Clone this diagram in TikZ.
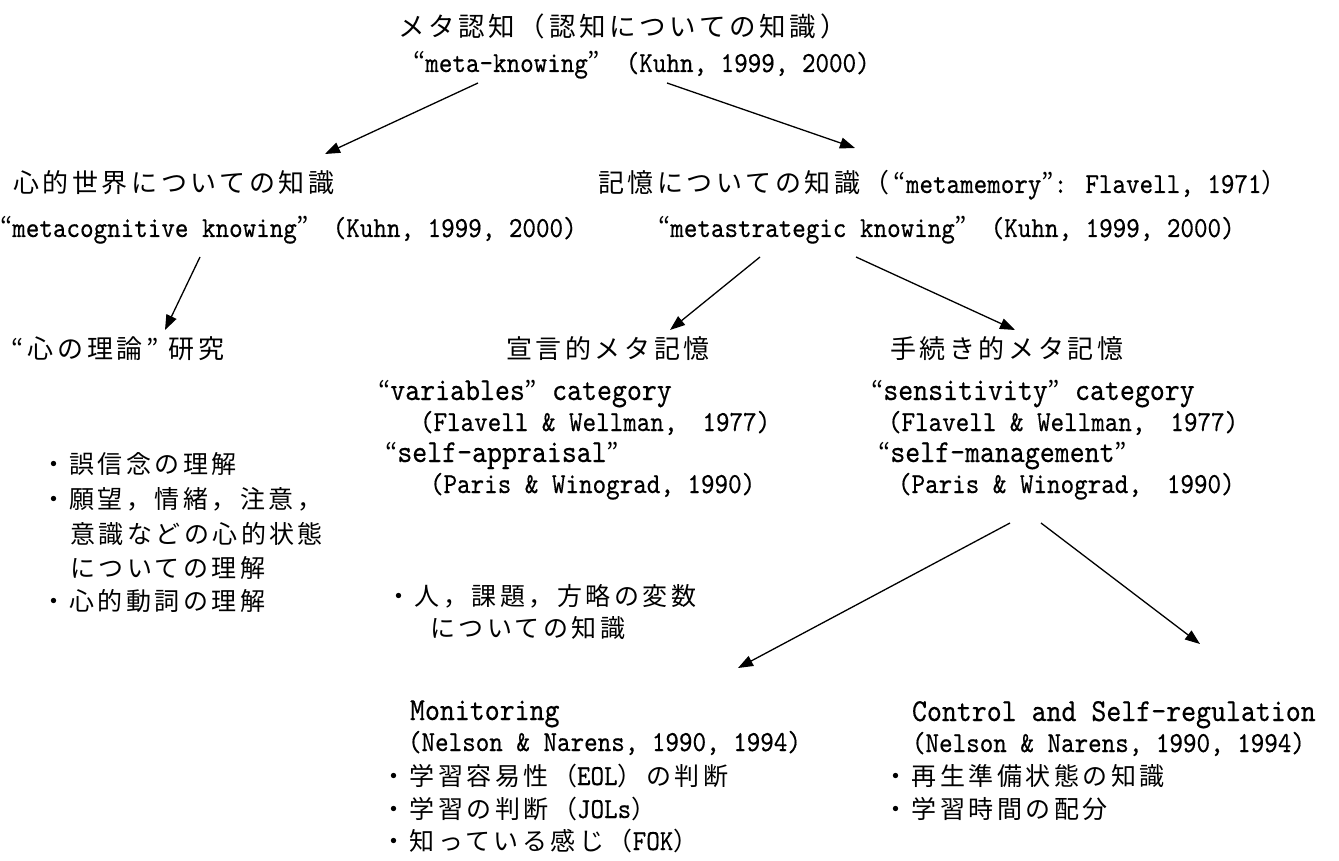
\documentclass[tikz,border=0pt]{standalone}
\usepackage{fontspec}
\usetikzlibrary{arrows.meta}
\newfontfamily\jpf[LetterSpace=14]{Noto Sans CJK JP}
\newfontfamily\laf[FakeStretch=0.89,FakeBold=0.4]{lmmono10-regular.otf}
\newcommand\La[1]{{\fontsize{29}{34}\selectfont\laf #1}}
\newcommand\oq{{\fontsize{26}{30}\selectfont\jpf “}}
\newcommand\cq{{\fontsize{26}{30}\selectfont\jpf ”}}
\begin{document}
\begin{tikzpicture}[x=1pt,y=-1pt,
  lab/.style={anchor=base west, inner sep=0pt, outer sep=0pt},
  jp/.style={lab, font=\fontsize{25}{30}\selectfont\jpf, text height=21pt, text depth=5pt},
  jph/.style={lab, font=\fontsize{26}{30}\selectfont\jpf, text height=22pt, text depth=5pt},
  jpt/.style={lab, font=\fontsize{26.5}{32}\selectfont\jpf, text height=22pt, text depth=5pt},
  la/.style={lab, font=\fontsize{29}{34}\selectfont\laf, text height=20pt, text depth=5pt},
  lb/.style={lab, font=\fontsize{32}{38}\selectfont\laf, text height=21pt, text depth=5pt},
  arr/.style={line width=1.3pt, -{Triangle[length=15pt,width=11pt]}}]
\fill[white] (0,0) rectangle (1339,861);
\useasboundingbox (0,0) rectangle (1339,861);
% top
\node[jpt] (title) at (398,37) {メタ認知（認知についての知識）};
\node[la] (meta) at (413,72) {\oq meta-knowing\cq\hspace{12pt} (Kuhn, 1999, 2000)};
% level 2
\node[jph] (mind) at (13,193) {心的世界についての知識};
\node[jph] (mem) at (598,193) {記憶についての知識（\La{\oq metamemory\cq: Flavell, 1971}）};
\node[la] (mcog) at (0,237) {\oq metacognitive knowing\cq\hspace{10pt} (Kuhn, 1999, 2000)};
\node[la] (mstr) at (658,237) {\oq metastrategic knowing\cq\hspace{10pt} (Kuhn, 1999, 2000)};
% level 3
\node[jph] (tom) at (12,358) {\oq 心の理論\cq\hspace{10pt}研究};
\node[jph] (decl) at (506,358) {宣言的メタ記憶};
\node[jph] (proc) at (890,358) {手続き的メタ記憶};
\node[lb] (v1) at (378,400) {\oq variables\cq{} category};
\node[la] (v2) at (420,431) {(Flavell \& Wellman,\hspace{25pt}1977)};
\node[lb] (v3) at (385,462) {\oq self-appraisal\cq};
\node[la] (v4) at (430,493) {(Paris \& Winograd, 1990)};
\node[lb] (s1) at (871,400) {\oq sensitivity\cq{} category};
\node[la] (s2) at (888,431) {(Flavell \& Wellman,\hspace{25pt}1977)};
\node[lb] (s3) at (878,462) {\oq self-management\cq};
\node[la] (s4) at (898,493) {(Paris \& Winograd,\hspace{25pt}1990)};
% left bullets
\node[jp] (b1) at (41,473) {・誤信念の理解};
\node[jp] (b2) at (41,508) {・願望，情緒，注意，};
\node[jp] (b3) at (70,543) {意識などの心的状態};
\node[jp] (b4) at (70,577) {についての理解};
\node[jp] (b5) at (41,610) {・心的動詞の理解};
% middle bullets
\node[jp] (m1) at (386,605) {・人，課題，方略の変数};
\node[jp] (m2) at (430,637) {についての知識};
% monitoring
\node[lb] (mon) at (410,720) {Monitoring};
\node[la] (monr) at (408,751) {(Nelson \& Narens, 1990, 1994)};
\node[jp] (mb1) at (381,785) {・学習容易性（\La{EOL}）の判断};
\node[jp] (mb2) at (381,818) {・学習の判断（\La{JOLs}）};
\node[jp] (mb3) at (381,850) {・知っている感じ（\La{FOK}）};
% control
\node[lb] (ctl) at (912,721) {Control and Self-regulation};
\node[la] (ctlr) at (912,752) {(Nelson \& Narens, 1990, 1994)};
\node[jp] (cb1) at (883,785) {・再生準備状態の知識};
\node[jp] (cb2) at (883,818) {・学習時間の配分};
% arrow coordinates
\coordinate (a1s) at (478,83);  \coordinate (a1e) at (325,154);
\coordinate (a2s) at (667,83);  \coordinate (a2e) at (855,148);
\coordinate (a3s) at (200,257); \coordinate (a3e) at (165,330);
\coordinate (a4s) at (760,257); \coordinate (a4e) at (670,330);
\coordinate (a5s) at (856,257); \coordinate (a5e) at (1015,330);
\coordinate (a6s) at (1010,523); \coordinate (a6e) at (738,668);
\coordinate (a7s) at (1041,523); \coordinate (a7e) at (1200,644);
\draw[arr] (a1s) -- (a1e);
\draw[arr] (a2s) -- (a2e);
\draw[arr] (a3s) -- (a3e);
\draw[arr] (a4s) -- (a4e);
\draw[arr] (a5s) -- (a5e);
\draw[arr] (a6s) -- (a6e);
\draw[arr] (a7s) -- (a7e);
\end{tikzpicture}
\end{document}
